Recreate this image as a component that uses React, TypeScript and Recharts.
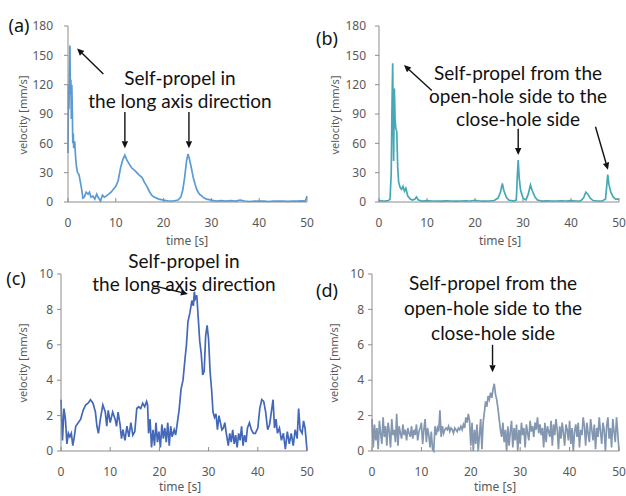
import React from "react";
import { LineChart, Line, XAxis, YAxis, ReferenceLine } from "recharts";

// (a) long-axis self-propulsion, velocity [mm/s]
const timeA = [
  0, 0.1, 0.2, 0.3, 0.4, 0.5, 0.6, 0.7, 0.8, 0.9, 1.0, 1.1, 1.2, 1.4, 1.6, 1.8, 2.0, 2.3, 2.6, 2.9,
  3.1, 3.4, 3.8, 4.2, 4.5, 4.8, 5.2, 5.6, 6.0, 6.4, 6.8, 7.2, 7.6, 8.0, 8.5, 9, 9.5, 10, 10.5, 11,
  11.5, 11.9, 12.3, 12.8, 13.3, 14, 14.8, 15.5, 16, 16.5, 17, 17.5, 18, 19, 20, 21, 22, 23, 23.6, 24,
  24.4, 24.8, 25.1, 25.4, 25.8, 26.2, 26.6, 27, 27.5, 28, 28.5, 29, 30, 31, 32, 33, 34, 35, 36, 37,
  38, 39, 40, 41, 42, 43, 44, 45, 46, 47, 48, 49, 49.6, 49.8, 50,
];
const velA = [
  50, 120, 95, 135, 160, 110, 125, 85, 120, 95, 60, 70, 55, 62, 45, 35, 30, 28, 20, 12,
  4, 5, 10, 8, 10, 5, 6, 3, 8, 4, 1, 7, 5, 6, 8, 10, 13, 16, 22, 35,
  44, 48, 43, 39, 35, 32, 28, 25, 20, 16, 11, 7, 5, 3, 2, 1, 1, 2, 5, 12,
  25, 42, 49, 44, 35, 25, 18, 12, 8, 6, 4, 3, 2, 1, 1.5, 1, 1.5, 1, 2, 1,
  0.5, 1, 0.8, 1, 0.5, 1, 0.8, 1, 0.6, 1, 0.8, 1.2, 1, 3, 6,
];

// (b) open-hole -> close-hole self-propulsion, velocity [mm/s]
const timeB = [
  0, 0.5, 1, 1.5, 2, 2.3, 2.55, 2.7, 2.85, 3.05, 3.2, 3.35, 3.5, 3.7, 3.9, 4.1, 4.4, 4.7, 5.0, 5.3,
  5.6, 6.0, 6.5, 7.0, 7.5, 7.8, 8.2, 9, 10, 11, 12, 13, 14, 15, 16, 17, 18, 19, 20, 21,
  22, 23, 24, 24.8, 25.3, 25.7, 26.0, 26.5, 27, 28, 28.6, 28.85, 29.0, 29.2, 29.5, 30, 30.6, 31.1, 31.55, 31.9,
  32.5, 33, 34, 35, 36, 37, 38, 39, 40, 41, 42, 42.6, 43.1, 43.5, 44, 44.6, 45.5, 46.5, 47.2, 47.65,
  47.9, 48.3, 48.8, 49.3, 50,
];
const velB = [
  1, 1.5, 0.8, 1.2, 1.5, 3, 30, 95, 142, 42, 116, 85, 75, 72, 35, 20, 15, 13, 16, 11,
  14, 6, 3, 2, 3, 5, 2, 1, 1.5, 1, 1, 0.8, 1.2, 1, 0.8, 1, 1.2, 1, 1.8, 1,
  0.8, 1, 1.5, 4, 10, 19, 12, 5, 2, 1, 2, 30, 43, 25, 12, 4, 2, 8, 17.5, 12,
  5, 2, 1, 1.2, 1, 1, 1.2, 1, 1.5, 1, 1.2, 4, 10, 8, 4, 1.5, 1, 1, 3, 28,
  18, 10, 5, 3, 3,
];

// (c) long-axis, slow case
const timeC = [
  0, 0.3, 0.6, 0.9, 1.2, 1.5, 1.8, 2.1, 2.4, 2.7, 3, 3.5, 4, 4.5, 5, 5.5, 6, 6.5, 7, 7.3,
  7.6, 8, 8.5, 9, 9.3, 9.6, 10, 10.5, 11, 11.3, 11.6, 12, 12.3, 12.6, 13, 13.4, 13.8, 14.2, 14.6, 15,
  15.4, 15.8, 16.2, 16.6, 17, 17.4, 17.6, 17.8, 18.1, 18.4, 18.7, 19, 19.3, 19.6, 19.9, 20.2, 20.5, 20.8, 21.1, 21.4,
  21.7, 22, 22.3, 22.6, 23, 23.3, 23.6, 24, 24.4, 24.8, 25.2, 25.5, 25.8, 26.2, 26.6, 26.9, 27.1, 27.3, 27.6, 27.9,
  28.2, 28.5, 28.8, 29.1, 29.4, 29.7, 30, 30.3, 30.6, 30.9, 31.2, 31.5, 31.8, 32.1, 32.4, 32.7, 33, 33.3, 33.6, 34,
  34.3, 34.6, 34.9, 35.2, 35.5, 35.8, 36.1, 36.4, 36.7, 37, 37.3, 37.6, 37.9, 38.3, 38.7, 39.1, 39.5, 40, 40.4, 40.8,
  41.2, 41.6, 42, 42.4, 42.8, 43.1, 43.4, 43.7, 44, 44.4, 44.8, 45.2, 45.6, 46, 46.4, 46.8, 47.2, 47.6, 48, 48.3,
  48.6, 49, 49.3, 49.6, 49.8, 50,
];
const velC = [
  2.9, 0.6, 2.4, 1.8, 0.4, 1.0, 0.8, 1.0, 0.3, 0.8, 1.4, 1.6, 1.8, 2.3, 2.6, 2.7, 2.9, 2.7, 2.2, 1.4,
  1.0, 1.8, 2.6, 2.2, 1.4, 2.3, 1.6, 2.2, 1.8, 1.4, 2.2, 1.5, 0.7, 1.2, 0.6, 1.4, 0.8, 1.6, 0.9, 1.1,
  2.4, 2.5, 2.4, 2.7, 2.5, 2.8, 2.6, 1.0, 1.8, 0.2, 1.2, 0.3, 1.6, 0.5, 1.1, 0.2, 1.5, 0.7, 1.3, 0.5,
  1.6, 0.3, 1.4, 0.8, 1.2, 0.9, 1.5, 2.3, 3.5, 4.0, 5.2, 6.0, 7.3, 7.8, 8.5, 8.2, 9.0, 8.6, 8.8, 7.5,
  6.2, 5.5, 4.3, 4.5, 6.5, 7.1, 6.3, 4.5, 3.5, 2.2, 1.9, 2.1, 1.2, 2.0, 1.6, 1.2, 1.3, 1.6, 1.0, 0.3,
  1.0, 0.5, 1.2, 0.4, 0.9, 0.2, 1.0, 0.6, 1.4, 0.3, 0.9, 0.5, 1.3, 1.6, 1.2, 1.0, 1.0, 1.3, 2.4, 2.9,
  2.8, 2.2, 1.2, 1.5, 2.3, 2.9, 1.3, 1.8, 1.0, 1.3, 0.6, 1.0, 0.1, 1.1, 0.4, 1.0, 0.3, 1.2, 0.7, 2.4,
  1.2, 1.0, 1.7, 1.3, 0.7, 0.0,
];

// (d) open-hole -> close-hole, slow case, sampled every 0.25 s
const SAMPLE_STEP_D = 0.25;
const velD = [
  1.8, 0.2, 1.5, 0.6, 1.3, 0.1, 1.7, 1.0, 0.4, 1.9, 0.8, 1.4, 0.3, 1.6, 1.1, 0.2, 1.8, 0.9, 1.2, 0.5,
  2.1, 0.3, 1.4, 1.0, 0.7, 1.5, 0.9, 1.2, 0.6, 1.3, 1.0, 0.8, 1.4, 0.7, 1.2, 0.9, 1.5, 0.6, 1.1, 1.3,
  1.6, 0.4, 1.2, 1.8, 0.5, 1.3, 0.9, 0.2, 1.1, 0.1, 0.0, 1.4, 0.9, 1.3, 1.1, 2.3, 0.8, 1.4, 1.0, 1.2,
  1.3, 1.2, 1.4, 1.1, 1.3, 1.2, 1.0, 1.3, 1.2, 1.1, 1.3, 1.2, 1.4, 1.2, 1.5, 1.3, 1.9, 1.6, 2.1, 1.7,
  0.3, 1.6, 0.0, 1.2, 0.4, 1.5, 0.0, 0.9, 1.8, 0.1, 1.6, 2.2, 2.8, 2.5, 3.1, 2.9, 3.3, 3.0, 3.5, 3.8,
  3.2, 2.9, 2.4, 1.8, 1.2, 0.8, 1.6, 0.5, 1.2, 0.0, 1.4, 0.3, 1.1, 1.7, 0.2, 1.3, 0.6, 1.5, 0.0, 1.2,
  0.4, 1.6, 0.9, 1.3, 0.2, 1.5, 1.0, 0.6, 1.7, 1.1, 1.4, 0.8, 1.6, 1.2, 1.9, 1.0, 1.5, 0.9, 1.3, 0.2,
  1.6, 0.5, 1.4, 1.1, 0.8, 1.7, 0.3, 1.5, 0.9, 1.8, 1.2, 0.1, 1.4, 0.7, 1.6, 1.0, 0.3, 1.5, 1.2, 0.6,
  1.7, 0.4, 1.3, 0.0, 1.1, 1.5, 0.8, 1.6, 0.2, 1.2, 0.9, 1.9, 1.4, 0.3, 1.6, 1.0, 0.5, 1.8, 1.2, 0.6,
  1.5, 0.1, 1.3, 0.8, 1.9, 1.1, 0.4, 1.6, 1.2, 0.0, 1.4, 1.9, 0.7, 1.3, 0.2, 1.8, 1.1, 0.5, 1.9, 1.0,
  0.0,
];
const timeD = velD.map((_, i) => i * SAMPLE_STEP_D);

const xTicks = [0, 10, 20, 30, 40, 50];
const yTicksFast = [0, 30, 60, 90, 120, 150, 180];
const yTicksSlow = [0, 2, 4, 6, 8, 10];

const noteLong = ["Self-propel in", "the long axis direction"];
const noteHole = ["Self-propel from the", "open-hole side to the", "close-hole side"];

type Pt = { x: number; y: number };
type Seg = [Pt, Pt];

// annotation arrows, in data coordinates (tail -> head)
const arrowsA: Seg[] = [
  [{ x: 7.4, y: 131 }, { x: 1.9, y: 157 }],
  [{ x: 11.9, y: 92 }, { x: 11.9, y: 55 }],
  [{ x: 25.3, y: 92 }, { x: 25.3, y: 55 }],
];
const arrowsB: Seg[] = [
  [{ x: 11, y: 114 }, { x: 5.2, y: 140 }],
  [{ x: 29.0, y: 75 }, { x: 29.0, y: 48 }],
  [{ x: 45.1, y: 77 }, { x: 47.7, y: 33 }],
];
const arrowsC: Seg[] = [[{ x: 18.7, y: 9.34 }, { x: 25.8, y: 8.87 }]];
const arrowsD: Seg[] = [[{ x: 24.4, y: 6.0 }, { x: 24.4, y: 4.45 }]];

const FONT = "'Noto Sans', 'Open Sans', sans-serif";
const NOTE_FONT = "Lato, 'Noto Sans', sans-serif";
const AXIS = "#8c8c8c";
const TICK_TEXT = "#595959";

function ArrowShape(props: any) {
  const { x1, y1, x2, y2 } = props;
  if ([x1, y1, x2, y2].some((n) => typeof n !== "number" || isNaN(n))) return null;
  const ang = Math.atan2(y2 - y1, x2 - x1);
  const len = 7;
  const half = 3.2;
  const bx = x2 - len * Math.cos(ang);
  const by = y2 - len * Math.sin(ang);
  const pts = [
    `${x2},${y2}`,
    `${bx + half * Math.sin(ang)},${by - half * Math.cos(ang)}`,
    `${bx - half * Math.sin(ang)},${by + half * Math.cos(ang)}`,
  ].join(" ");
  return (
    <g>
      <line x1={x1} y1={y1} x2={bx} y2={by} stroke="#111" strokeWidth={1.4} />
      <polygon points={pts} fill="#111" />
    </g>
  );
}

function Txt({ x, y, size, color = "#111", rotate = false, children }: any) {
  return (
    <div
      style={{
        position: "absolute",
        left: x,
        top: y,
        transform: `translate(-50%, -50%)${rotate ? " rotate(-90deg)" : ""}`,
        fontFamily: FONT,
        fontSize: size,
        color,
        whiteSpace: "nowrap",
        lineHeight: 1,
      }}
    >
      {children}
    </div>
  );
}

function Note({ x, y, lines, lineHeight }: { x: number; y: number; lines: string[]; lineHeight: number }) {
  return (
    <div
      style={{
        position: "absolute",
        left: x,
        top: y,
        transform: "translate(-50%, -50%)",
        fontFamily: NOTE_FONT,
        fontSize: 19,
        color: "#111",
        whiteSpace: "nowrap",
        textAlign: "center",
        lineHeight: `${lineHeight}px`,
      }}
    >
      {lines.map((l, i) => (
        <React.Fragment key={i}>
          {i > 0 && <br />}
          {l}
        </React.Fragment>
      ))}
    </div>
  );
}

interface PanelProps {
  left: number;
  top: number;
  width: number;
  height: number;
  marginTop: number;
  marginRight: number;
  marginBottom: number;
  yAxisWidth: number;
  yTickMargin: number;
  time: number[];
  vel: number[];
  yMax: number;
  yTicks: number[];
  color: string;
  arrows: Seg[];
}

function Panel(p: PanelProps) {
  const data = p.time.map((t, i) => ({ t, v: p.vel[i] }));
  return (
    <div style={{ position: "absolute", left: p.left, top: p.top }}>
      <LineChart
        width={p.width}
        height={p.height}
        data={data}
        margin={{ top: p.marginTop, right: p.marginRight, bottom: p.marginBottom, left: 0 }}
      >
        <XAxis
          dataKey="t"
          type="number"
          domain={[0, 50]}
          ticks={xTicks}
          height={30}
          stroke={AXIS}
          tickSize={-4}
          tickMargin={20}
          tick={{ fill: TICK_TEXT, fontSize: 12, fontFamily: FONT }}
        />
        <YAxis
          type="number"
          domain={[0, p.yMax]}
          ticks={p.yTicks}
          width={p.yAxisWidth}
          stroke={AXIS}
          tickSize={4}
          tickMargin={p.yTickMargin}
          tick={{ fill: TICK_TEXT, fontSize: 12, fontFamily: FONT }}
        />
        <Line
          type="linear"
          dataKey="v"
          stroke={p.color}
          strokeWidth={1.7}
          dot={false}
          isAnimationActive={false}
        />
        {p.arrows.map((s, i) => (
          <ReferenceLine key={i} segment={s} ifOverflow="visible" shape={ArrowShape} />
        ))}
      </LineChart>
    </div>
  );
}

export default function App() {
  return (
    <div style={{ position: "absolute", left: 0, top: 0, width: 626, height: 496, background: "#fff", overflow: "hidden" }}>
      <Panel left={0} top={0} width={320} height={250} marginTop={26} marginRight={13} marginBottom={18}
        yAxisWidth={68} yTickMargin={11} time={timeA} vel={velA} yMax={180} yTicks={yTicksFast}
        color="#5b9bd5" arrows={arrowsA} />
      <Panel left={313} top={0} width={313} height={250} marginTop={26} marginRight={7} marginBottom={18}
        yAxisWidth={66} yTickMargin={9} time={timeB} vel={velB} yMax={180} yTicks={yTicksFast}
        color="#46a8b6" arrows={arrowsB} />
      <Panel left={0} top={250} width={320} height={246} marginTop={24} marginRight={13} marginBottom={15}
        yAxisWidth={61} yTickMargin={4} time={timeC} vel={velC} yMax={10} yTicks={yTicksSlow}
        color="#4468b8" arrows={arrowsC} />
      <Panel left={313} top={250} width={313} height={246} marginTop={24} marginRight={7} marginBottom={15}
        yAxisWidth={59} yTickMargin={4} time={timeD} vel={velD} yMax={10} yTicks={yTicksSlow}
        color="#8497b0" arrows={arrowsD} />

      <Txt x={19} y={25} size={18}>(a)</Txt>
      <Txt x={327} y={38} size={18}>(b)</Txt>
      <Txt x={16} y={278} size={18}>(c)</Txt>
      <Txt x={327} y={290} size={18}>(d)</Txt>

      <Txt x={22} y={115} size={11} color={TICK_TEXT} rotate>velocity [mm/s]</Txt>
      <Txt x={334} y={115} size={11} color={TICK_TEXT} rotate>velocity [mm/s]</Txt>
      <Txt x={22} y={363} size={11} color={TICK_TEXT} rotate>velocity [mm/s]</Txt>
      <Txt x={333} y={363} size={11} color={TICK_TEXT} rotate>velocity [mm/s]</Txt>

      <Txt x={187} y={241} size={12} color={TICK_TEXT}>time [s]</Txt>
      <Txt x={500} y={241} size={12} color={TICK_TEXT}>time [s]</Txt>
      <Txt x={180} y={487} size={12} color={TICK_TEXT}>time [s]</Txt>
      <Txt x={495} y={487} size={12} color={TICK_TEXT}>time [s]</Txt>

      <Note x={180} y={89} lines={noteLong} lineHeight={23} />
      <Note x={518} y={95} lines={noteHole} lineHeight={23} />
      <Note x={184} y={272} lines={noteLong} lineHeight={23} />
      <Note x={493} y={307} lines={noteHole} lineHeight={25} />
    </div>
  );
}
